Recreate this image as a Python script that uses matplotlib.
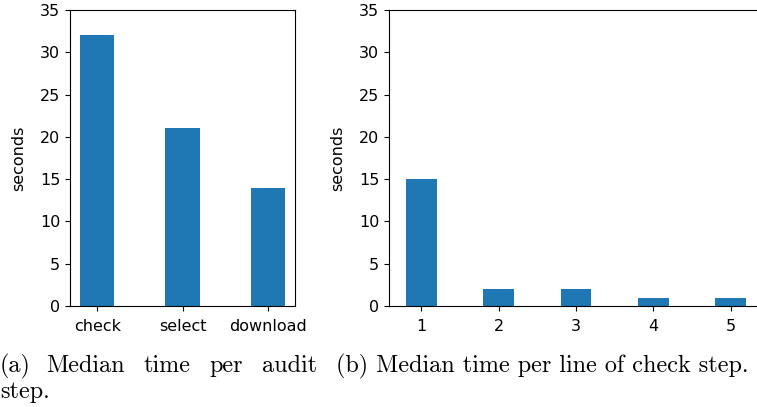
import matplotlib.pyplot as plt

# median durations (seconds)
steps = ['check', 'select', 'download']
step_times = [32, 21, 14]

lines = [1, 2, 3, 4, 5]
line_times = [15, 2, 2, 1, 1]

W, H = 757, 407
fig = plt.figure(figsize=(W / 100, H / 100), dpi=100)

# left panel: time per audit step
ax1 = fig.add_axes([70 / W, 101 / H, 225 / W, 296 / H])
ax1.bar(range(len(steps)), step_times, width=0.4, color='#1f77b4')
ax1.set_xticks(range(len(steps)))
ax1.set_xticklabels(steps)
ax1.set_ylim(0, 35)
ax1.set_ylabel('seconds', fontsize=11.5, labelpad=10)
ax1.tick_params(labelsize=11.5)
ax1.tick_params(axis='x', pad=6)

# right panel: time per line of the check step (runs past the right edge)
ax2 = fig.add_axes([389 / W, 101 / H, 374 / W, 296 / H])
ax2.bar(lines, line_times, width=0.4, color='#1f77b4')
ax2.set_xticks(lines)
ax2.set_ylim(0, 35)
ax2.set_ylabel('seconds', fontsize=11.5, labelpad=10)
ax2.tick_params(labelsize=11.5)
ax2.tick_params(axis='x', pad=6)

# captions
cap = dict(fontfamily='cmr10', fontsize=17.4, va='baseline', ha='left')
for word, x in [('(a)', 0), ('Median', 46), ('time', 144), ('per', 209), ('audit', 262)]:
    fig.text(x / W, 1 - 372 / H, word, **cap)
fig.text(0, 1 - 398 / H, 'step.', **cap)
fig.text(336 / W, 1 - 372 / H, '(b) Median time per line of check step.', **cap)

fig.savefig('out.png', dpi=100)
